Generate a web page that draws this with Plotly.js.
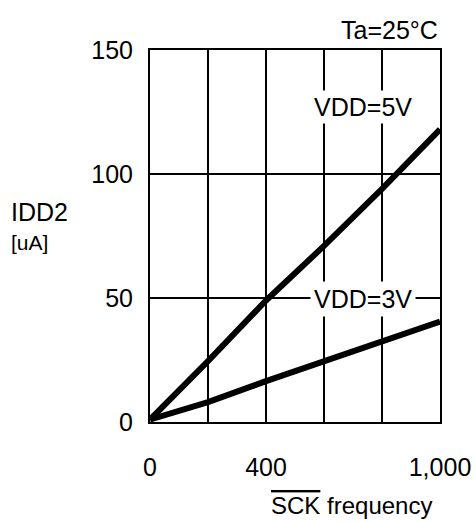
<!DOCTYPE html>
<html>
<head>
<meta charset="utf-8">
<script src="https://cdn.plot.ly/plotly-3.0.1.min.js"></script>
<style>html,body{margin:0;padding:0;background:#fff;}#chart{width:476px;height:522px;}</style>
</head>
<body>
<div id="chart"></div>
<script>
// Data (SCK frequency vs IDD2 in uA)
const freq5V = [0, 200, 400, 600, 800, 1000];
const idd5V  = [1, 24.5, 49, 71, 94, 118];
const freq3V = [0, 60, 200, 400, 600, 800, 1000];
const idd3V  = [1, 3, 8, 16.5, 24.5, 32.5, 40.5];
const xTickVals = [0, 200, 400, 600, 800, 1000];
const xTickText = ["0", "", "400", "", "", "1,000"];
const yTickVals = [0, 50, 100, 150];
const yTickText = ["0", "50", "100", "150"];

const FONT = "Liberation Sans, Arial, sans-serif";

const traces = [
  {x: freq5V, y: idd5V, mode: "lines", line: {color: "#000", width: 6}, hoverinfo: "skip", showlegend: false},
  {x: freq3V, y: idd3V, mode: "lines", line: {color: "#000", width: 6}, hoverinfo: "skip", showlegend: false}
];

const layout = {
  width: 476, height: 522,
  margin: {l: 150, r: 36, t: 50, b: 100},
  paper_bgcolor: "#fff", plot_bgcolor: "#fff",
  font: {family: FONT, size: 25, color: "#000"},
  xaxis: {
    range: [0, 1000], tickvals: xTickVals, ticktext: xTickText,
    showgrid: true, gridcolor: "#000", gridwidth: 2,
    showline: true, linecolor: "#000", linewidth: 2, mirror: true,
    zeroline: false, ticks: "", ticklabelstandoff: 22,
    tickfont: {size: 25}, fixedrange: true
  },
  yaxis: {
    range: [0, 150], tickvals: yTickVals, ticktext: yTickText,
    showgrid: true, gridcolor: "#000", gridwidth: 2,
    showline: true, linecolor: "#000", linewidth: 2, mirror: true,
    zeroline: false, ticks: "", ticklabelstandoff: 10,
    tickfont: {size: 25}, fixedrange: true
  },
  annotations: [
    {text: "Ta=25°C", xref: "paper", yref: "paper", x: 1, y: 1, xanchor: "right", yanchor: "bottom",
     yshift: 4, showarrow: false, font: {size: 25}},
    {text: "VDD=5V", xref: "x", yref: "y", x: 734, y: 127, showarrow: false,
     bgcolor: "#fff", borderpad: 2, font: {size: 25}},
    {text: "VDD=3V", xref: "x", yref: "y", x: 734, y: 49.5, showarrow: false,
     bgcolor: "#fff", borderpad: 3, font: {size: 25}},
    {text: "IDD2", xref: "paper", yref: "paper", x: -141/290, y: (422-212)/372, xanchor: "left", yanchor: "middle",
     showarrow: false, font: {size: 25}},
    {text: "[uA]", xref: "paper", yref: "paper", x: -141/290, y: (422-242)/372, xanchor: "left", yanchor: "middle",
     showarrow: false, font: {size: 21}},
    {text: "<span style=\"text-decoration:overline\">SCK</span> frequency", xref: "paper", yref: "paper",
     x: (351-150)/290, y: (422-505)/372, xanchor: "center", yanchor: "middle", showarrow: false, font: {size: 24}}
  ]
};

Plotly.newPlot("chart", traces, layout, {staticPlot: true, displayModeBar: false});
</script>
</body>
</html>
